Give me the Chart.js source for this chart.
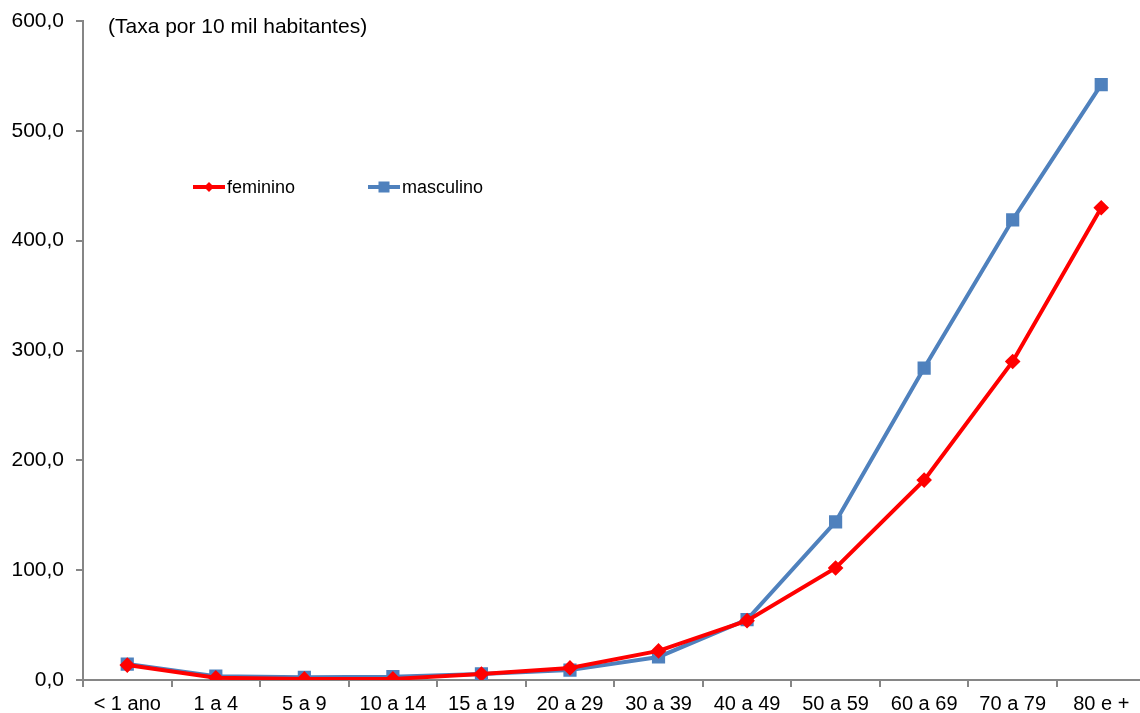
<!DOCTYPE html>
<html>
<head>
<meta charset="utf-8">
<script src="https://cdn.jsdelivr.net/npm/chart.js@4/dist/chart.umd.min.js"></script>
<style>
  html, body { margin: 0; padding: 0; background: #fff; overflow: hidden; }
  #wrap { width: 1140px; height: 713px; overflow: hidden; }
</style>
</head>
<body>
<div id="wrap"><canvas id="chart" width="1156" height="713"></canvas></div>
<script>
// faixas etárias e taxas (por 10 mil habitantes)
const ageGroups = ['< 1 ano', '1 a 4', '5 a 9', '10 a 14', '15 a 19', '20 a 29',
  '30 a 39', '40 a 49', '50 a 59', '60 a 69', '70 a 79', '80 e +'];
const feminino = [13.6, 2.0, 1.0, 1.0, 5.5, 11.0, 26.5, 54.0, 102.0, 182.0, 290.0, 430.0];
const masculino = [14.5, 3.5, 2.5, 3.0, 5.5, 9.0, 21.0, 55.0, 144.0, 284.0, 419.0, 542.0];
const yTicks = [0, 100, 200, 300, 400, 500, 600];

const axisColor = '#868686';
const fontFamily = 'Arial, "Liberation Sans", sans-serif';

// legend + unit label drawn at fixed spots, like the original sheet
const overlay = {
  id: 'overlay',
  afterDraw(chart) {
    const ctx = chart.ctx;
    ctx.save();
    ctx.font = '21px ' + fontFamily;
    ctx.fillStyle = '#000';
    ctx.textBaseline = 'middle';
    ctx.fillText('(Taxa por 10 mil habitantes)', 108, 27);

    const items = [{ x: 193, ds: chart.data.datasets[0] }, { x: 368, ds: chart.data.datasets[1] }];
    ctx.font = '18px ' + fontFamily;
    items.forEach(it => {
      const y = 187;
      ctx.strokeStyle = it.ds.borderColor;
      ctx.lineWidth = 4;
      ctx.beginPath();
      ctx.moveTo(it.x, y);
      ctx.lineTo(it.x + 32, y);
      ctx.stroke();
      ctx.fillStyle = it.ds.borderColor;
      const cx = it.x + 16;
      if (it.ds.pointStyle === 'rect') {
        ctx.fillRect(cx - 5.5, y - 5.5, 11, 11);
      } else {
        ctx.beginPath();
        ctx.moveTo(cx, y - 5);
        ctx.lineTo(cx + 5, y);
        ctx.lineTo(cx, y + 5);
        ctx.lineTo(cx - 5, y);
        ctx.closePath();
        ctx.fill();
      }
      ctx.fillStyle = '#000';
      ctx.fillText(it.ds.label, it.x + 34, y + 1);
    });
    ctx.restore();
  }
};

new Chart(document.getElementById('chart'), {
  type: 'line',
  data: {
    labels: ageGroups,
    datasets: [
      {
        label: 'feminino', data: feminino,
        borderColor: '#FF0000', backgroundColor: '#FF0000',
        borderWidth: 4, pointStyle: 'rectRot', pointRadius: 5, pointHoverRadius: 5,
        tension: 0
      },
      {
        label: 'masculino', data: masculino,
        borderColor: '#4F81BD', backgroundColor: '#4F81BD',
        borderWidth: 4, pointStyle: 'rect', pointRadius: 6.5, pointHoverRadius: 6.5,
        tension: 0
      }
    ]
  },
  options: {
    responsive: false,
    animation: false,
    layout: { padding: { top: 21, right: 0, left: 0, bottom: 0 } },
    plugins: { legend: { display: false }, tooltip: { enabled: false } },
    scales: {
      x: {
        offset: true,
        grid: { display: true, drawOnChartArea: false, offset: true, color: axisColor, lineWidth: 2, tickLength: 7 },
        border: { color: axisColor, width: 2 },
        ticks: { color: '#000', font: { family: fontFamily, size: 20 }, maxRotation: 0, autoSkip: false, padding: 5 },
        afterFit(axis) { axis.height = 33; }
      },
      y: {
        min: 0, max: 600,
        afterBuildTicks(axis) { axis.ticks = yTicks.map(v => ({ value: v })); },
        grid: { display: true, drawOnChartArea: false, color: axisColor, lineWidth: 2, tickLength: 7 },
        border: { color: axisColor, width: 2 },
        ticks: {
          color: '#000', font: { family: fontFamily, size: 21 }, padding: 12,
          callback: v => v.toFixed(1).replace('.', ',')
        },
        afterFit(axis) { axis.width = 83; axis.paddingTop = 0; axis.paddingBottom = 0; }
      }
    }
  },
  plugins: [overlay]
});
</script>
</body>
</html>
